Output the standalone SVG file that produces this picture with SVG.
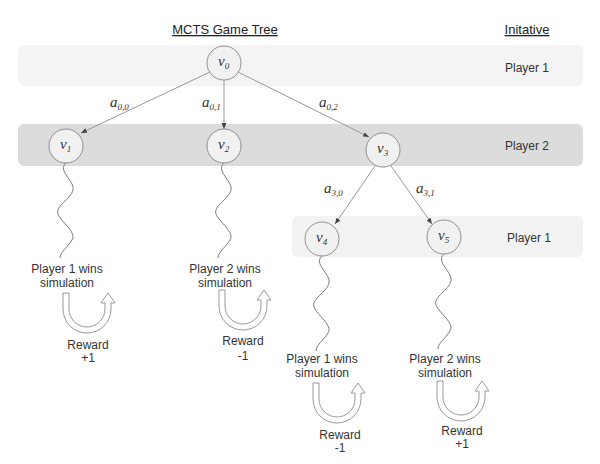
<svg xmlns="http://www.w3.org/2000/svg" width="600" height="464" viewBox="0 0 600 464">
<style>
.t{font-family:"Liberation Sans",Arial,sans-serif;font-size:12px;fill:#333;text-anchor:middle}
.h{font-family:"Liberation Sans",Arial,sans-serif;font-size:13px;fill:#222;text-anchor:middle;text-decoration:underline}
.m{font-family:"Liberation Serif","Times New Roman",serif;font-style:italic;fill:#333}
.node{fill:#f1f1f1;stroke:#8f8f8f;stroke-width:1}
.e{stroke:#999;stroke-width:1;fill:none}
.w{stroke:#777;stroke-width:1;fill:none}
.u{fill:#fff;stroke:#999;stroke-width:1}
</style>
<defs>
<marker id="ah" viewBox="0 0 10 10" refX="10" refY="5" markerWidth="6" markerHeight="6" orient="auto">
<path d="M0,1 L10,5 L0,9 Z" fill="#444"/>
</marker>
<path id="uturn" d="M0,0 L0,16 A24,24 0 0 0 48,16 L48,10 L52,10 L45,0 L38,10 L42,10 L42,16 A18,18 0 0 1 6,16 L6,0 Z"/>
<path id="wave" d="M0,0 C-9,8 9,18 7,27 S-11,43 -8,51 S11,69 6,77 S-6,89 -6,95"/>
</defs>
<rect width="600" height="464" fill="#fff"/>
<g id="bands">
<rect x="18" y="45" width="565" height="41" rx="6" fill="#f4f4f4"/>
<rect x="18" y="124" width="565" height="42" rx="6" fill="#dcdcdc"/>
<rect x="292" y="216" width="291" height="41" rx="6" fill="#f2f2f2"/>
</g>
<g id="headers">
<text class="h" x="225" y="34">MCTS Game Tree</text>
<text class="h" x="527" y="34">Initative</text>
<text class="t" x="527" y="72">Player 1</text>
<text class="t" x="527" y="150">Player 2</text>
<text class="t" x="529" y="242">Player 1</text>
</g>
<g id="connectors">
<line class="e" x1="210" y1="72" x2="81" y2="133" marker-end="url(#ah)"/>
<line class="e" x1="224" y1="80" x2="224" y2="129" marker-end="url(#ah)"/>
<line class="e" x1="238" y1="72" x2="369" y2="137" marker-end="url(#ah)"/>
<line class="e" x1="375" y1="166" x2="335" y2="224" marker-end="url(#ah)"/>
<line class="e" x1="391" y1="166" x2="432" y2="224" marker-end="url(#ah)"/>
<use href="#wave" class="w" transform="translate(66,163)"/>
<use href="#wave" class="w" transform="translate(224,163)"/>
<use href="#wave" class="w" transform="translate(322,256)"/>
<use href="#wave" class="w" transform="translate(444,254)"/>
<text class="m" x="110" y="107" font-size="15">a<tspan font-size="9" dy="3">0,0</tspan></text>
<text class="m" x="202" y="107" font-size="15">a<tspan font-size="9" dy="3">0,1</tspan></text>
<text class="m" x="319" y="107" font-size="15">a<tspan font-size="9" dy="3">0,2</tspan></text>
<text class="m" x="324" y="193" font-size="15">a<tspan font-size="9" dy="3">3,0</tspan></text>
<text class="m" x="416" y="193" font-size="15">a<tspan font-size="9" dy="3">3,1</tspan></text>
</g>
<g id="v0"><circle class="node" cx="224" cy="63" r="17"/><text class="m" x="218" y="66" font-size="15">v<tspan font-size="9" dy="3">0</tspan></text></g>
<g id="v1"><circle class="node" cx="66" cy="146" r="17"/><text class="m" x="60" y="149" font-size="15">v<tspan font-size="9" dy="3">1</tspan></text></g>
<g id="v2"><circle class="node" cx="224" cy="146" r="17"/><text class="m" x="218" y="149" font-size="15">v<tspan font-size="9" dy="3">2</tspan></text></g>
<g id="v3"><circle class="node" cx="383" cy="150" r="17"/><text class="m" x="377" y="153" font-size="15">v<tspan font-size="9" dy="3">3</tspan></text></g>
<g id="v4"><circle class="node" cx="322" cy="239" r="17"/><text class="m" x="316" y="242" font-size="15">v<tspan font-size="9" dy="3">4</tspan></text></g>
<g id="v5"><circle class="node" cx="444" cy="237" r="17"/><text class="m" x="438" y="240" font-size="15">v<tspan font-size="9" dy="3">5</tspan></text></g>
<g id="sim1">
<text class="t" x="67" y="273">Player 1 wins</text>
<text class="t" x="67" y="287">simulation</text>
<use href="#uturn" class="u" transform="translate(63,293)"/>
<text class="t" x="88" y="349">Reward</text>
<text class="t" x="88" y="362">+1</text>
</g>
<g id="sim2">
<text class="t" x="225" y="273">Player 2 wins</text>
<text class="t" x="225" y="287">simulation</text>
<use href="#uturn" class="u" transform="translate(219,290)"/>
<text class="t" x="243" y="345">Reward</text>
<text class="t" x="243" y="360">-1</text>
</g>
<g id="sim3">
<text class="t" x="322" y="363">Player 1 wins</text>
<text class="t" x="322" y="377">simulation</text>
<use href="#uturn" class="u" transform="translate(313,383)"/>
<text class="t" x="340" y="439">Reward</text>
<text class="t" x="340" y="452">-1</text>
</g>
<g id="sim4">
<text class="t" x="445" y="363">Player 2 wins</text>
<text class="t" x="445" y="377">simulation</text>
<use href="#uturn" class="u" transform="translate(437,381)"/>
<text class="t" x="462" y="435">Reward</text>
<text class="t" x="462" y="448">+1</text>
</g>
</svg>
